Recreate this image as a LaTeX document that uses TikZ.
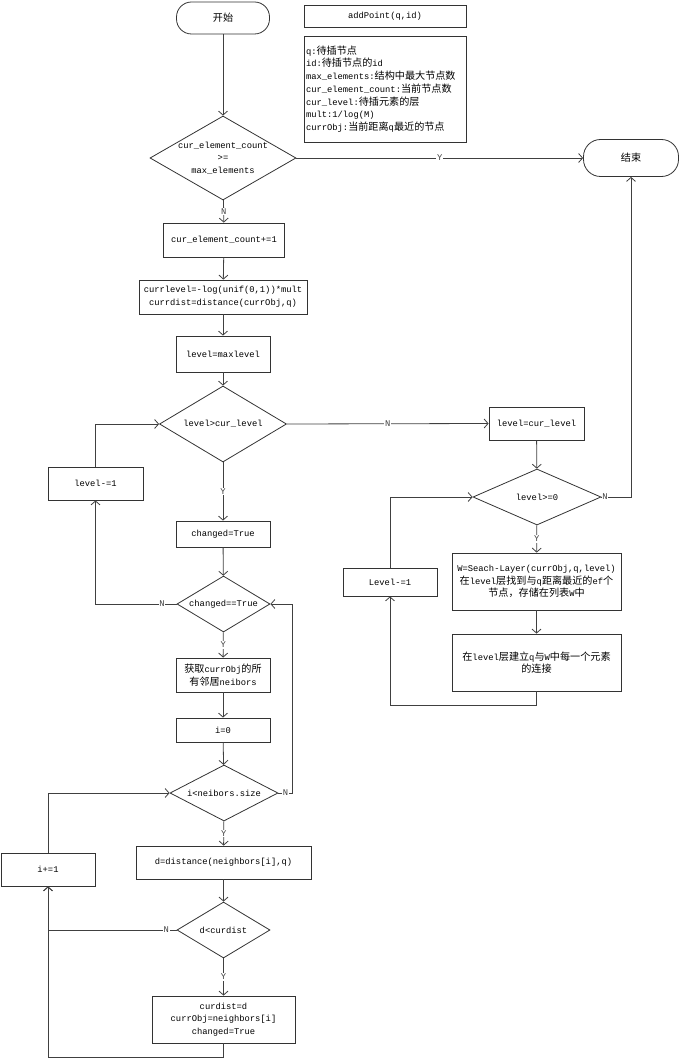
\documentclass[tikz,border=0pt]{standalone}
\usepackage{fontspec}
\setmainfont{Liberation Mono}
\newfontfamily\cjk[Scale=1.15]{Noto Sans CJK SC}
\usetikzlibrary{shapes.geometric,arrows.meta}
\newcommand\fsN{\fontsize{8.8}{12.7}\selectfont}
\newcommand\zh[1]{{\cjk #1}}

\begin{document}
\begin{tikzpicture}[x=1pt,y=-1pt,
  box/.style={draw=black!80,line width=0.8pt,font=\fsN,align=center,inner sep=1pt},
  term/.style={box,rounded corners=15pt,minimum width=93,minimum height=32},
  dia/.style={diamond,draw=black!80,line width=0.8pt,inner sep=0},
  dtext/.style={font=\fsN,align=center,inner sep=0},
  lbl/.style={font=\fsN,fill=white,inner sep=0.8pt},
  wire/.style={black!75,line width=0.8pt},
  arr/.style={wire,-{Straight Barb[length=4pt,width=9pt]}}]
\useasboundingbox (0,0) rectangle (679,1059);
% ============ header ============
\node[term] (start) at (223,18) {\zh{开始}};
\node[box,minimum width=162,minimum height=22] (addp) at (385,16) {addPoint(q,id)};
\node[box,align=left,text width=158,inner sep=2pt,minimum height=106] (info) at (385,89) {%
q:\zh{待插节点}\\
id:\zh{待插节点的}id\\
max\_elements:\zh{结构中最大节点数}\\
cur\_element\_count:\zh{当前节点数}\\
cur\_level:\zh{待插元素的层}\\
mult:1/log(M)\\
currObj:\zh{当前距离}q\zh{最近的节点}};
% ============ main column ============
\node[dia,minimum width=146,minimum height=84,
  label={[dtext]center:cur\_element\_count\\>=\\max\_elements}] (full) at (223,158) {};
\node[term,minimum width=95,minimum height=37,rounded corners=17pt] (end) at (631,158) {\zh{结束}};
\node[box,minimum width=121,minimum height=34] (inc) at (224,240) {cur\_element\_count+=1};
\node[box,minimum width=168,minimum height=34] (rnd) at (223,297) {currlevel=-log(unif(0,1))*mult\\currdist=distance(currObj,q)};
\node[box,minimum width=94,minimum height=36] (lvl) at (223,354) {level=maxlevel};
\node[dia,minimum width=127,minimum height=76,label={[dtext]center:level>cur\_level}] (above) at (223,424) {};
\node[box,minimum width=95,minimum height=33] (ldec) at (95.5,483.5) {level-=1};
\node[box,minimum width=94,minimum height=26] (chg) at (223,534) {changed=True};
\node[dia,minimum width=93,minimum height=56,label={[dtext]center:changed==True}] (moved) at (223.5,604) {};
\node[box,minimum width=94,minimum height=34] (nbr) at (223,675) {\zh{获取}currObj\zh{的所}\\\zh{有邻居}neibors};
\node[box,minimum width=94,minimum height=24] (izero) at (223,730) {i=0};
\node[dia,minimum width=108,minimum height=56,label={[dtext]center:i<neibors.size}] (more) at (224,793) {};
\node[box,minimum width=94,minimum height=33] (iinc) at (48,869.5) {i+=1};
\node[box,minimum width=175,minimum height=33] (dist) at (223.5,862.5) {d=distance(neighbors[i],q)};
\node[dia,minimum width=93,minimum height=56,label={[dtext]center:d<curdist}] (closer) at (223.5,930) {};
\node[box,minimum width=143,minimum height=47] (upd) at (223.5,1019.5) {curdist=d\\currObj=neighbors[i]\\changed=True};
% ============ right column ============
\node[box,minimum width=95,minimum height=33] (setl) at (536.5,423.5) {level=cur\_level};
\node[dia,minimum width=128,minimum height=56,label={[dtext]center:level>=0}] (down) at (537,497) {};
\node[box,minimum width=169,minimum height=57] (search) at (536.5,581.5) {W=Seach-Layer(currObj,q,level)\\\zh{在}level\zh{层找到与}q\zh{距离最近的}ef\zh{个}\\\zh{节点，存储在列表}W\zh{中}};
\node[box,minimum width=169,minimum height=57] (link) at (536.5,662.5) {\zh{在}level\zh{层建立}q\zh{与}W\zh{中每一个元素}\\\zh{的连接}};
\node[box,minimum width=94,minimum height=28] (Ldec) at (390,582) {Level-=1};
% ============ connectors ============
\draw[arr] (start) -- (full);
\draw[arr] (full.east) -- node[lbl,pos=0.5]{Y} (end.west);
\draw[arr] (full) -- node[lbl]{N} (inc);
\draw[arr] (inc) -- (rnd);
\draw[arr] (rnd) -- (lvl);
\draw[arr] (lvl) -- (above);
\draw[arr] (above.east) -- node[lbl]{N} (setl.west);
\draw[arr] (above) -- node[lbl]{Y} (chg);
\draw[arr] (chg) -- (moved);
\draw[arr] (moved.west) -| node[lbl,pos=0.09]{N} (ldec.south);
\draw[arr] (ldec.north) |- (above.west);
\draw[arr] (moved) -- node[lbl]{Y} (nbr);
\draw[arr] (nbr) -- (izero);
\draw[arr] (izero) -- (more);
\draw[arr] (more.east) -- node[lbl]{N} ++(14,0) |- (moved.east);
\draw[arr] (more) -- node[lbl]{Y} (dist);
\draw[arr] (dist) -- (closer);
\draw[arr] (closer.west) -| node[lbl,pos=0.04]{N} (iinc.south);
\draw[arr] (closer) -- node[lbl]{Y} (upd);
\draw[arr] (upd.south) -- ++(0,14) -| (iinc.south);
\draw[arr] (iinc.north) |- (more.west);
\draw[arr] (setl) -- (down);
\draw[arr] (down.east) -| node[lbl,pos=0.06]{N} (end.south);
\draw[arr] (down) -- node[lbl]{Y} (search);
\draw[arr] (search) -- (link);
\draw[arr] (link.south) -- ++(0,14) -| (Ldec.south);
\draw[arr] (Ldec.north) |- (down.west);
\end{tikzpicture}
\end{document}
